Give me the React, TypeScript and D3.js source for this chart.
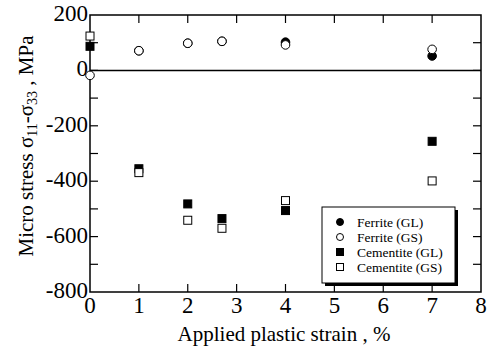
import React, { useEffect, useRef } from 'react';
import * as d3 from 'd3';

const strain = [0, 1, 2, 2.7, 4, 7];
const ferriteGL = [null, 71, 98, 105, 102, 52];
const ferriteGS = [-18, 71, 98, 105, 92, 76];
const cementiteGL = [87, -355, -482, -535, -506, -256];
const cementiteGS = [124, -369, -541, -570, -470, -399];
const xTicks = [0, 1, 2, 3, 4, 5, 6, 7, 8];
const yTicks = [200, 0, -200, -400, -600, -800];
const legendLabels = ['Ferrite (GL)', 'Ferrite (GS)', 'Cementite (GL)', 'Cementite (GS)'];

const FONT = 'Liberation Serif';

export default function App() {
  const ref = useRef<SVGSVGElement>(null);
  const width = 489;
  const height = 352;
  const margin = { top: 15, right: 8, bottom: 60, left: 90 };

  useEffect(() => {
    if (!ref.current) return;
    const svg = d3.select(ref.current);
    svg.selectAll('*').remove();

    const x = d3.scaleLinear().domain([0, 8]).range([margin.left, width - margin.right]);
    const y = d3.scaleLinear().domain([-800, 200]).range([height - margin.bottom, margin.top]);
    const [x0, x1] = x.range();
    const [y0, y1] = [y(200), y(-800)];

    // frame
    svg.append('rect')
      .attr('x', x0).attr('y', y0)
      .attr('width', x1 - x0).attr('height', y1 - y0)
      .attr('fill', 'none').attr('stroke', '#000').attr('stroke-width', 1.5);

    // zero line
    svg.append('line')
      .attr('x1', x0).attr('x2', x1)
      .attr('y1', y(0)).attr('y2', y(0))
      .attr('stroke', '#000').attr('stroke-width', 1.5);

    const tickLen = 8;
    const g = svg.append('g').attr('stroke', '#000').attr('stroke-width', 1.2);
    xTicks.slice(1, -1).forEach(t => {
      g.append('line').attr('x1', x(t)).attr('x2', x(t)).attr('y1', y1).attr('y2', y1 - tickLen);
      g.append('line').attr('x1', x(t)).attr('x2', x(t)).attr('y1', y0).attr('y2', y0 + tickLen);
    });
    d3.range(-700, 200, 100).forEach(t => {
      g.append('line').attr('x1', x0).attr('x2', x0 + tickLen).attr('y1', y(t)).attr('y2', y(t));
      g.append('line').attr('x1', x1).attr('x2', x1 - tickLen).attr('y1', y(t)).attr('y2', y(t));
    });

    // tick labels
    svg.append('g').selectAll('text').data(xTicks).enter().append('text')
      .attr('x', d => x(d)).attr('y', y1 + 21)
      .attr('text-anchor', 'middle')
      .attr('font-family', FONT).attr('font-size', 23)
      .text(d => d);
    svg.append('g').selectAll('text').data(yTicks).enter().append('text')
      .attr('x', x0 - 2).attr('y', d => y(d) + 6)
      .attr('text-anchor', 'end')
      .attr('font-family', FONT).attr('font-size', 23)
      .text(d => d);

    // axis titles
    svg.append('text')
      .attr('x', 284).attr('y', 341)
      .attr('text-anchor', 'middle')
      .attr('font-family', FONT).attr('font-size', 21)
      .text('Applied plastic strain , %');
    const yt = svg.append('text')
      .attr('transform', 'translate(33,146) rotate(-90)')
      .attr('text-anchor', 'middle')
      .attr('font-family', FONT).attr('font-size', 21);
    yt.append('tspan').text('Micro stress σ');
    yt.append('tspan').attr('font-size', 14).attr('dy', 4).text('11');
    yt.append('tspan').attr('dy', -4).text('-σ');
    yt.append('tspan').attr('font-size', 14).attr('dy', 4).text('33');
    yt.append('tspan').attr('dy', -4).text(' , MPa');

    // markers
    const plot = svg.append('g');
    const circle = (vals: (number | null)[], filled: boolean) => {
      strain.forEach((s, i) => {
        const v = vals[i];
        if (v === null) return;
        plot.append('circle')
          .attr('cx', x(s)).attr('cy', y(v)).attr('r', 4.3)
          .attr('fill', filled ? '#000' : '#fff')
          .attr('stroke', '#000').attr('stroke-width', 1);
      });
    };
    const square = (vals: number[], filled: boolean) => {
      strain.forEach((s, i) => {
        plot.append('rect')
          .attr('x', x(s) - 4).attr('y', y(vals[i]) - 4)
          .attr('width', 8).attr('height', 8)
          .attr('fill', filled ? '#000' : '#fff')
          .attr('stroke', '#000').attr('stroke-width', 1);
      });
    };
    circle(ferriteGL, true);
    circle(ferriteGS, false);
    square(cementiteGL, true);
    square(cementiteGS, false);

    // legend
    const lx = 322, ly = 207, lw = 133, lh = 76;
    svg.append('rect').attr('x', lx + 3).attr('y', ly + 3).attr('width', lw).attr('height', lh).attr('fill', '#000');
    svg.append('rect').attr('x', lx).attr('y', ly).attr('width', lw).attr('height', lh)
      .attr('fill', '#fff').attr('stroke', '#000').attr('stroke-width', 1);
    legendLabels.forEach((label, i) => {
      const cy = ly + 15 + i * 15;
      if (i < 2) {
        svg.append('circle').attr('cx', lx + 18).attr('cy', cy).attr('r', 3.5)
          .attr('fill', i === 0 ? '#000' : '#fff').attr('stroke', '#000');
      } else {
        svg.append('rect').attr('x', lx + 14.5).attr('y', cy - 3.5).attr('width', 7).attr('height', 7)
          .attr('fill', i === 2 ? '#000' : '#fff').attr('stroke', '#000');
      }
      svg.append('text')
        .attr('x', lx + 35).attr('y', cy + 5)
        .attr('font-family', FONT).attr('font-size', 13.5)
        .text(label);
    });
  // eslint-disable-next-line react-hooks/exhaustive-deps
  }, []);

  return (
    <svg ref={ref} width={width} height={height}
      style={{ position: 'absolute', left: 0, top: 0, background: '#fff' }} />
  );
}
